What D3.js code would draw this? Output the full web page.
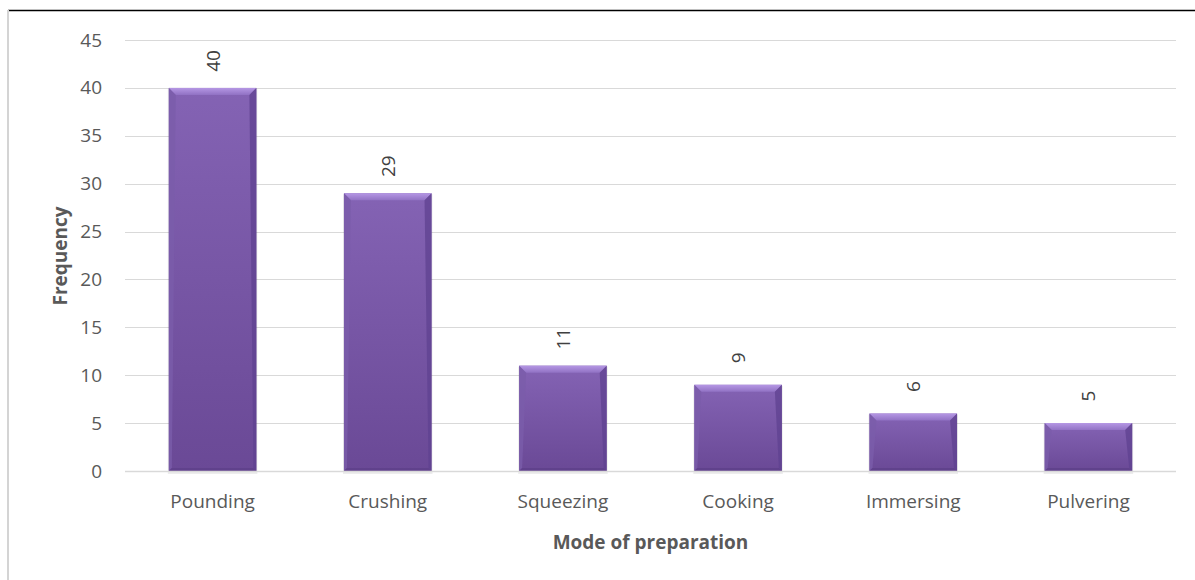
<!DOCTYPE html>
<html>
<head>
<meta charset="utf-8">
<script src="https://cdn.jsdelivr.net/npm/d3@7"></script>
<style>
  body { margin: 0; background: #fff; }
  svg { display: block; font-family: "Open Sans", "Noto Sans", sans-serif; }
</style>
</head>
<body>
<svg width="1195" height="580"></svg>
<script>
// chart data
var modes = ["Pounding", "Crushing", "Squeezing", "Cooking", "Immersing", "Pulvering"];
var frequency = [40, 29, 11, 9, 6, 5];
var yTicks = [0, 5, 10, 15, 20, 25, 30, 35, 40, 45];

var svg = d3.select("svg");
var plotL = 125, plotR = 1176, plotT = 40, plotB = 471;
var fs = 19;

var x = d3.scaleBand().domain(modes).range([plotL, plotR]).paddingInner(0.5).paddingOuter(0.25);
var y = d3.scaleLinear().domain([0, 45]).range([plotB, plotT]);

// frame
svg.append("line").attr("x1", 8).attr("x2", 1195).attr("y1", 10.5).attr("y2", 10.5)
   .attr("stroke", "#000").attr("stroke-width", 1.5);
svg.append("line").attr("x1", 8).attr("x2", 8).attr("y1", 10).attr("y2", 580)
   .attr("stroke", "#d4d4d4").attr("stroke-width", 2);

// gridlines
svg.append("g").selectAll("line").data(yTicks.slice(1)).enter().append("line")
   .attr("x1", plotL).attr("x2", plotR)
   .attr("y1", function(d){ return Math.round(y(d)) + 0.5; })
   .attr("y2", function(d){ return Math.round(y(d)) + 0.5; })
   .attr("stroke", "#d9d9d9").attr("stroke-width", 1);

// y axis
var yAxis = svg.append("g").attr("transform", "translate(" + (plotL - 13) + ",0)")
   .call(d3.axisLeft(y).tickValues(yTicks).tickSize(0).tickPadding(10));
yAxis.select(".domain").remove();
yAxis.selectAll("text").attr("font-size", fs).attr("fill", "#595959")
   .attr("font-family", "Open Sans, sans-serif");

// gradients
var defs = svg.append("defs");
var g1 = defs.append("linearGradient").attr("id", "barFill").attr("x1", 0).attr("y1", 0).attr("x2", 0).attr("y2", 1);
g1.append("stop").attr("offset", "0%").attr("stop-color", "#8463b4");
g1.append("stop").attr("offset", "100%").attr("stop-color", "#6a4996");
var g2 = defs.append("linearGradient").attr("id", "topBevel").attr("x1", 0).attr("y1", 0).attr("x2", 0).attr("y2", 1);
g2.append("stop").attr("offset", "0%").attr("stop-color", "#b597e4");
g2.append("stop").attr("offset", "100%").attr("stop-color", "#9172c4");

var bevel = 7;
var bars = svg.append("g").selectAll("g").data(frequency).enter().append("g");

function bx(i){ return x(modes[i]); }

// shadow
bars.append("rect")
   .attr("x", function(d, i){ return bx(i) - 1; })
   .attr("y", function(d){ return y(d) + 1; })
   .attr("width", x.bandwidth() + 2)
   .attr("height", function(d){ return plotB - y(d) + 2; })
   .attr("fill", "#000").attr("opacity", 0.07);

bars.append("rect")
   .attr("x", function(d, i){ return bx(i); })
   .attr("y", function(d){ return y(d); })
   .attr("width", x.bandwidth())
   .attr("height", function(d){ return plotB - y(d); })
   .attr("fill", "url(#barFill)");

// top bevel
bars.append("polygon").attr("fill", "url(#topBevel)")
   .attr("points", function(d, i){
     var x0 = bx(i), x1 = x0 + x.bandwidth(), yt = y(d);
     return [[x0, yt], [x1, yt], [x1 - bevel, yt + bevel], [x0 + bevel, yt + bevel]].join(" ");
   });
// left bevel
bars.append("polygon").attr("fill", "#7a5caa").attr("opacity", 0.8)
   .attr("points", function(d, i){
     var x0 = bx(i), yt = y(d);
     return [[x0, yt], [x0 + bevel, yt + bevel], [x0 + 3, plotB - 3], [x0, plotB]].join(" ");
   });
// right bevel
bars.append("polygon").attr("fill", "#5f4190").attr("opacity", 0.75)
   .attr("points", function(d, i){
     var x1 = bx(i) + x.bandwidth(), yt = y(d);
     return [[x1, yt], [x1 - bevel, yt + bevel], [x1 - 3, plotB - 3], [x1, plotB]].join(" ");
   });
// bottom bevel
bars.append("polygon").attr("fill", "#5e4089").attr("opacity", 0.8)
   .attr("points", function(d, i){
     var x0 = bx(i), x1 = x0 + x.bandwidth();
     return [[x0, plotB], [x0 + 3, plotB - 3], [x1 - 3, plotB - 3], [x1, plotB]].join(" ");
   });

// value labels
bars.append("text")
   .attr("transform", function(d, i){
     return "translate(" + (bx(i) + x.bandwidth() / 2 + 7) + "," + (y(d) - 27) + ") rotate(-90)";
   })
   .attr("text-anchor", "middle")
   .attr("font-size", fs).attr("fill", "#404040")
   .text(function(d){ return d; });

// x axis
svg.append("line").attr("x1", plotL).attr("x2", plotR).attr("y1", plotB + 0.5).attr("y2", plotB + 0.5)
   .attr("stroke", "#d9d9d9").attr("stroke-width", 1.5);
var xAxis = svg.append("g").attr("transform", "translate(0," + plotB + ")")
   .call(d3.axisBottom(x).tickSize(0).tickPadding(24));
xAxis.select(".domain").remove();
xAxis.selectAll("text").attr("font-size", fs).attr("fill", "#595959")
   .attr("font-family", "Open Sans, sans-serif");

// axis titles
svg.append("text").attr("x", (plotL + plotR) / 2).attr("y", 549)
   .attr("text-anchor", "middle").attr("font-size", fs).attr("font-weight", "bold")
   .attr("fill", "#595959").text("Mode of preparation");
svg.append("text").attr("transform", "translate(67," + 256 + ") rotate(-90)")
   .attr("text-anchor", "middle").attr("font-size", fs).attr("font-weight", "bold")
   .attr("fill", "#595959").text("Frequency");
</script>
</body>
</html>
